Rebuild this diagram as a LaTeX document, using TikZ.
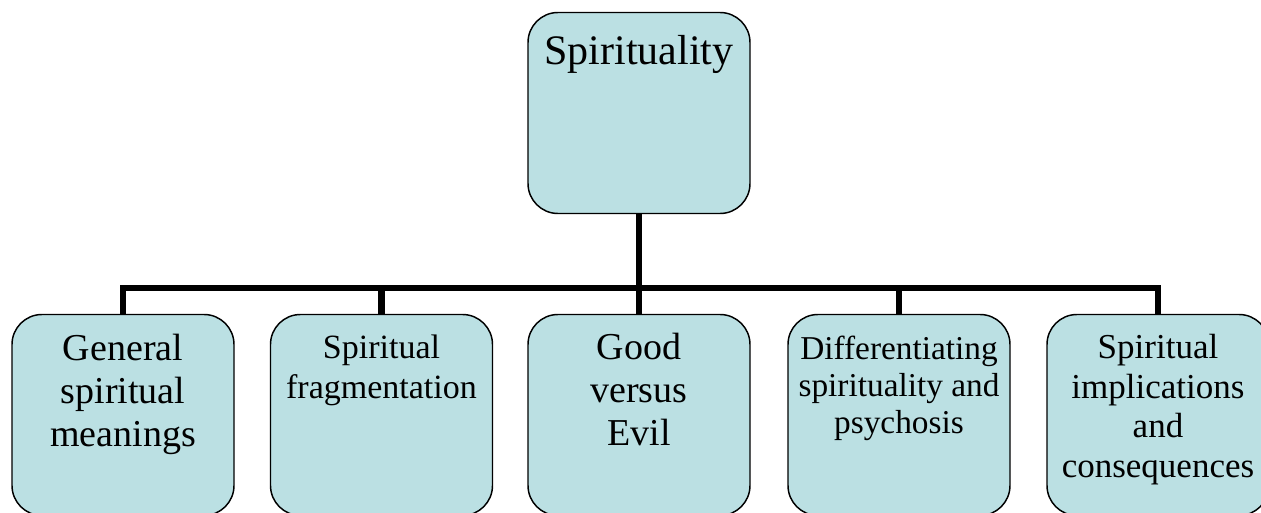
\documentclass[tikz,border=0pt]{standalone}
\usepackage{fontspec}
\setmainfont{Liberation Serif}
\definecolor{boxfill}{RGB}{187,224,227}
% zero-width strut fixing the top of each label above its first baseline
\newcommand\lnstrut{\rule{0pt}{0.8em}}
\tikzset{
  card/.style={draw=black, line width=1.1pt, fill=boxfill, rounded corners=22.5pt,
    minimum width=166.5pt, minimum height=150.75pt, inner sep=0pt},
  cardtext/.style={anchor=north, inner sep=0pt, align=center, text=black},
  conn/.style={draw=black, line width=4.6pt, line join=miter, line cap=butt}
}
\begin{document}
\begin{tikzpicture}[x=0.75pt, y=-0.75pt]
  \useasboundingbox (0,0) rectangle (1261,513);
  \clip (0,0) rectangle (1261,513);

  % boxes
  \node[card] (top) at (639,113) {};
  \node[card] (b1) at (123,415) {};
  \node[card] (b2) at (381.5,415) {};
  \node[card] (b3) at (639,415) {};
  \node[card] (b4) at (899,415) {};
  \node[card] (b5) at (1158,415) {};

  % connectors
  \coordinate (bar) at (639,288);
  \draw[conn] (b1.north) |- (bar) -| (b5.north);
  \draw[conn] (top.south) -- (b3.north);
  \draw[conn] (b2.north) -- (b2.north |- bar);
  \draw[conn] (b4.north) -- (b4.north |- bar);

  % labels
  \node[cardtext, font={\fontsize{31.5}{36}\selectfont}] (ttop) at (639,30.4)
    {\lnstrut Spirituality};
  \node[cardtext, font={\fontsize{28.5}{32}\selectfont}] (t1) at (123,330)
    {\lnstrut General\\spiritual\\meanings};
  \node[cardtext, font={\fontsize{25.5}{30}\selectfont}] (t2) at (381.5,331)
    {\lnstrut Spiritual\\fragmentation};
  \node[cardtext, font={\fontsize{28.5}{32.25}\selectfont}] (t3) at (639,329)
    {\lnstrut Good\\versus\\Evil};
  \node[cardtext, font={\fontsize{25}{27.5}\selectfont}] (t4) at (899,333)
    {\lnstrut Differentiating\\spirituality and\\psychosis};
  \node[cardtext, font={\fontsize{26.25}{29.8}\selectfont}] (t5) at (1158,330)
    {\lnstrut Spiritual\\implications\\and\\consequences};
\end{tikzpicture}
\end{document}
